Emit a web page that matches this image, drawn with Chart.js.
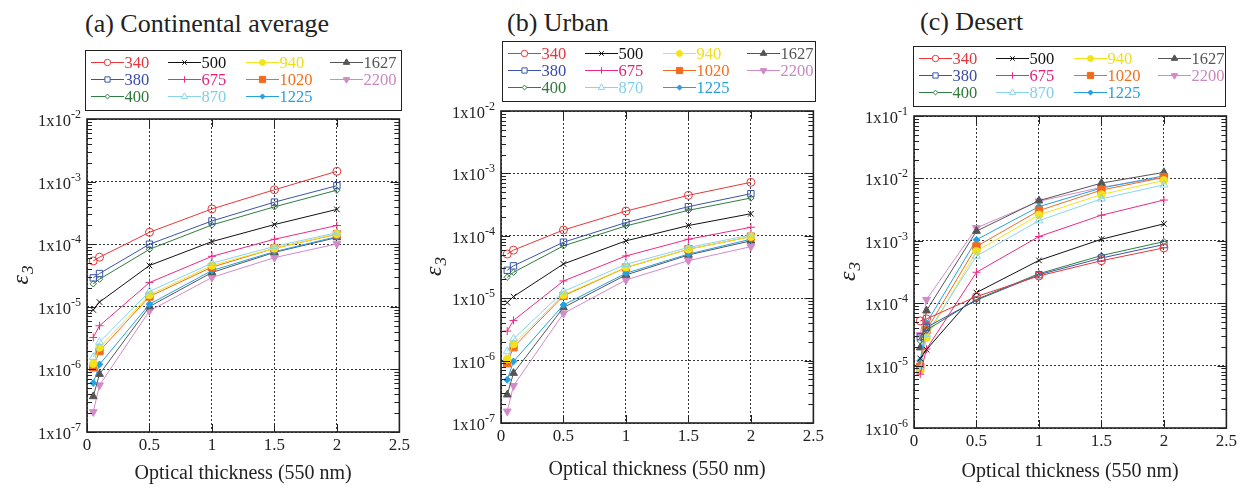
<!DOCTYPE html>
<html>
<head>
<meta charset="utf-8">
<script src="https://cdn.jsdelivr.net/npm/chart.js@4.4.0/dist/chart.umd.min.js"></script>
<style>
  body { margin: 0; width: 1240px; height: 490px; background: #fff; position: relative; overflow: hidden;
         font-family: "Liberation Serif", "Times New Roman", serif; color: #222; }
  canvas.plot { position: absolute; top: 0; }
  .ttl { position: absolute; font-size: 26px; line-height: 26px; white-space: nowrap; color: #222; }
  .leg { position: absolute; border: 1.5px solid #222; box-sizing: border-box; background: #fff; }
  .item { position: absolute; height: 17px; font-size: 16.5px; line-height: 17px; white-space: nowrap; }
  .item canvas { position: absolute; left: 0; top: 0; }
  .item span { position: absolute; left: 34px; top: 0; }
</style>
</head>
<body>
<script>
// ---- data ----
const xs = [0.05, 0.1, 0.5, 1, 1.5, 2];
const wavelengths = ['340', '380', '400', '500', '675', '870', '940', '1020', '1225', '1627', '2200'];
const xTicks = [0, 0.5, 1, 1.5, 2, 2.5];
const yTicksAB = [1e-7, 1e-6, 1e-5, 1e-4, 1e-3, 1e-2];
const yTicksC = [1e-6, 1e-5, 1e-4, 1e-3, 1e-2, 1e-1];
const panelTitles = ['(a) Continental average', '(b) Urban', '(c) Desert'];
const xTitle = 'Optical thickness (550 nm)';

// one row per wavelength, one value per optical thickness
const continentalValues = [
  [5.4e-5, 6.2e-5, 1.55e-4, 3.66e-4, 7.4e-4, 1.46e-3],
  [2.9e-5, 3.4e-5, 1.0e-4, 2.35e-4, 4.7e-4, 8.6e-4],
  [2.33e-5, 2.76e-5, 8.3e-5, 2.03e-4, 3.95e-4, 7.3e-4],
  [8.9e-6, 1.19e-5, 4.57e-5, 1.1e-4, 2.06e-4, 3.6e-4],
  [3.24e-6, 4.98e-6, 2.44e-5, 6.4e-5, 1.2e-4, 1.99e-4],
  [1.57e-6, 2.73e-6, 1.76e-5, 4.98e-5, 9.2e-5, 1.53e-4],
  [1.23e-6, 2.24e-6, 1.55e-5, 4.57e-5, 8.6e-5, 1.46e-4],
  [1.08e-6, 1.96e-6, 1.46e-5, 4.3e-5, 8.6e-5, 1.44e-4],
  [6.05e-7, 1.2e-6, 1.1e-5, 3.8e-5, 7.6e-5, 1.32e-4],
  [3.7e-7, 8.4e-7, 1.01e-5, 3.53e-5, 7.4e-5, 1.28e-4],
  [2.09e-7, 5.6e-7, 8.6e-6, 2.94e-5, 6.1e-5, 1.01e-4]
];
const urbanValues = [
  [5.1e-5, 5.9e-5, 1.24e-4, 2.49e-4, 4.45e-4, 7.2e-4],
  [2.8e-5, 3.3e-5, 7.9e-5, 1.63e-4, 2.93e-4, 4.73e-4],
  [2.17e-5, 2.6e-5, 6.9e-5, 1.44e-4, 2.56e-4, 4.03e-4],
  [8.5e-6, 1.06e-5, 3.54e-5, 8.3e-5, 1.46e-4, 2.26e-4],
  [2.97e-6, 4.4e-6, 1.89e-5, 4.75e-5, 8.8e-5, 1.37e-4],
  [1.4e-6, 2.23e-6, 1.28e-5, 3.5e-5, 6.5e-5, 1.03e-4],
  [1.06e-6, 1.84e-6, 1.13e-5, 3.13e-5, 6.1e-5, 9.7e-5],
  [9.1e-7, 1.64e-6, 1.09e-5, 3.1e-5, 6.1e-5, 9.7e-5],
  [4.93e-7, 9.7e-7, 7.8e-6, 2.51e-5, 5.1e-5, 8.8e-5],
  [2.84e-7, 6.3e-7, 7.1e-6, 2.36e-5, 4.93e-5, 8.3e-5],
  [1.54e-7, 3.95e-7, 5.7e-6, 1.96e-5, 4.0e-5, 6.7e-5]
];
const desertValues = [
  [5.2e-5, 5.6e-5, 1.28e-4, 2.73e-4, 4.8e-4, 7.7e-4],
  [2.9e-5, 4.1e-5, 1.12e-4, 2.86e-4, 5.3e-4, 8.7e-4],
  [2.5e-5, 3.7e-5, 1.15e-4, 2.97e-4, 5.8e-4, 9.7e-4],
  [1.3e-5, 1.8e-5, 1.48e-4, 4.85e-4, 1.06e-3, 1.87e-3],
  [7.3e-6, 1.84e-5, 3.13e-4, 1.17e-3, 2.57e-3, 4.5e-3],
  [8.7e-6, 3.2e-5, 5.7e-4, 2.1e-3, 4.7e-3, 7.9e-3],
  [8.2e-6, 2.8e-5, 6.8e-4, 2.6e-3, 5.5e-3, 9.3e-3],
  [9.6e-6, 3.7e-5, 8.1e-4, 3.05e-3, 6.5e-3, 1.04e-2],
  [1.2e-5, 4.8e-5, 1.04e-3, 3.53e-3, 7.0e-3, 1.1e-2],
  [1.94e-5, 7.6e-5, 1.43e-3, 4.4e-3, 8.4e-3, 1.25e-2],
  [3.1e-5, 1.14e-4, 1.61e-3, 4.3e-3, 7.2e-3, 1.04e-2]
];

// ---- styles ----
const seriesStyle = [
  { color: '#e8363a', text: '#e8363a', point: 'circle', r: 4, open: true },
  { color: '#3a55a8', text: '#3a4aa8', point: 'rect', r: 4.5, open: true },
  { color: '#2e7d40', text: '#2e7a3a', point: 'rectRot', r: 3.2, open: true },
  { color: '#111111', text: '#111111', point: 'crossRot', r: 4, open: true },
  { color: '#ec2a86', text: '#e8207a', point: 'cross', r: 4, open: true },
  { color: '#88d4ee', text: '#80cfea', point: 'triangle', r: 4.5, open: true },
  { color: '#f3e21c', text: '#f0de18', point: 'circle', r: 3.8, open: false },
  { color: '#f26b1d', text: '#f0701e', point: 'rect', r: 5.2, open: false },
  { color: '#25a0e0', text: '#22a0e0', point: 'rectRot', r: 3.4, open: false },
  { color: '#555555', text: '#555555', point: 'triangle', r: 4.5, open: false },
  { color: '#d38ac8', text: '#c888c0', point: 'triangle', r: 4.5, open: false, rot: 180 }
];

const panels = [
  { left: 0, width: 413, area: { l: 87, r: 400, t: 119, b: 432 }, title: [85, 11],
    legend: [85, 50, 317, 61], xTitlePad: 4, values: continentalValues, yTicks: yTicksAB },
  { left: 413, width: 414, area: { l: 88, r: 401, t: 111, b: 423 }, title: [507, 10],
    legend: [502, 41, 314, 61], xTitlePad: 8, values: urbanValues, yTicks: yTicksAB },
  { left: 827, width: 413, area: { l: 87, r: 401, t: 116, b: 428 }, title: [920, 9],
    legend: [913, 46, 313, 61], xTitlePad: 6, values: desertValues, yTicks: yTicksC }
];

const FONT = '"Liberation Serif", "Times New Roman", serif';

// frame, inner tick marks, y tick labels (1x10^n) and the y title
const framePlugin = {
  id: 'frame',
  afterDraw(chart) {
    const { ctx, chartArea: a, scales: { x, y } } = chart;
    const yTicks = chart.options.scales.y.myTicks;
    ctx.save();
    ctx.strokeStyle = '#222';
    ctx.lineWidth = 1;
    ctx.beginPath();
    // minor ticks on the log axis
    for (let i = 0; i < yTicks.length - 1; i++) {
      for (let k = 2; k <= 9; k++) {
        const py = Math.round(y.getPixelForValue(yTicks[i] * k)) + 0.5;
        ctx.moveTo(a.left, py); ctx.lineTo(a.left + 5, py);
        ctx.moveTo(a.right, py); ctx.lineTo(a.right - 5, py);
      }
    }
    yTicks.forEach(v => {
      const py = Math.round(y.getPixelForValue(v)) + 0.5;
      ctx.moveTo(a.left, py); ctx.lineTo(a.left + 9, py);
      ctx.moveTo(a.right, py); ctx.lineTo(a.right - 9, py);
    });
    xTicks.forEach(v => {
      const px = Math.round(x.getPixelForValue(v)) + 0.5;
      ctx.moveTo(px, a.top); ctx.lineTo(px, a.top + 8);
      ctx.moveTo(px, a.bottom); ctx.lineTo(px, a.bottom - 8);
    });
    ctx.stroke();
    ctx.lineWidth = 1.6;
    ctx.strokeRect(a.left, a.top, a.right - a.left, a.bottom - a.top);

    // tick labels
    ctx.fillStyle = '#222';
    ctx.textAlign = 'left';
    ctx.textBaseline = 'alphabetic';
    yTicks.forEach(v => {
      const py = y.getPixelForValue(v);
      const exp = String(Math.round(Math.log10(v)));
      const right = a.left - 6;
      ctx.font = '12px ' + FONT;
      const ew = ctx.measureText(exp).width;
      ctx.fillText(exp, right - ew, py - 1);
      ctx.font = '16.5px ' + FONT;
      const mw = ctx.measureText('1x10').width;
      ctx.fillText('1x10', right - ew - mw, py + 7);
    });

    // y title: epsilon with subscript 3
    ctx.translate(28, (a.top + a.bottom) / 2);
    ctx.rotate(-Math.PI / 2);
    ctx.font = 'italic 24px ' + FONT;
    const w1 = ctx.measureText('ε').width;
    ctx.font = 'italic 17px ' + FONT;
    const w2 = ctx.measureText('3').width;
    const start = -(w1 + w2) / 2;
    ctx.font = 'italic 24px ' + FONT;
    ctx.fillText('ε', start, 0);
    ctx.font = 'italic 17px ' + FONT;
    ctx.fillText('3', start + w1 + 1, 5);
    ctx.restore();
  }
};

function drawSymbol(canvas, st) {
  const ctx = canvas.getContext('2d');
  ctx.strokeStyle = st.color;
  ctx.lineWidth = 1;
  ctx.beginPath();
  ctx.moveTo(0, 8.5); ctx.lineTo(33, 8.5);
  ctx.stroke();
  ctx.fillStyle = st.open ? '#fff' : st.color;
  Chart.helpers.drawPoint(ctx, { pointStyle: st.point, radius: st.r - 0.8, rotation: st.rot || 0, borderWidth: 1 }, 16.5, 8.5);
}

function makeLegend(p) {
  const [lx, ly, lw, lh] = p.legend;
  const box = document.createElement('div');
  box.className = 'leg';
  Object.assign(box.style, { left: lx + 'px', top: ly + 'px', width: lw + 'px', height: lh + 'px' });
  const cols = [6, 83, 161, 245];
  const rows = [13, 30, 47];
  wavelengths.forEach((w, i) => {
    const st = seriesStyle[i];
    const item = document.createElement('div');
    item.className = 'item';
    item.style.left = (cols[Math.floor(i / 3)] - 1.5) + 'px';
    item.style.top = (rows[i % 3] - 8.5 - 1.5) + 'px';
    const c = document.createElement('canvas');
    c.width = 34; c.height = 17;
    const s = document.createElement('span');
    s.textContent = w;
    s.style.color = st.text;
    item.appendChild(c);
    item.appendChild(s);
    box.appendChild(item);
    drawSymbol(c, st);
  });
  document.body.appendChild(box);
}

function makePanel(p, idx) {
  const t = document.createElement('div');
  t.className = 'ttl';
  t.textContent = panelTitles[idx];
  t.style.left = p.title[0] + 'px';
  t.style.top = p.title[1] + 'px';
  document.body.appendChild(t);

  const canvas = document.createElement('canvas');
  canvas.className = 'plot';
  canvas.width = p.width;
  canvas.height = 490;
  canvas.style.left = p.left + 'px';
  document.body.appendChild(canvas);

  const gridStyle = { color: '#333', lineWidth: 1, drawTicks: false };
  new Chart(canvas, {
    type: 'line',
    data: {
      datasets: wavelengths.map((w, i) => {
        const st = seriesStyle[i];
        return {
          label: w,
          data: xs.map((x, j) => ({ x: x, y: p.values[i][j] })),
          borderColor: st.color,
          backgroundColor: st.open ? 'rgba(255,255,255,0)' : st.color,
          borderWidth: 1,
          pointStyle: st.point,
          pointRadius: st.r,
          pointRotation: st.rot || 0,
          pointBorderWidth: 1,
          tension: 0,
          clip: 8
        };
      })
    },
    options: {
      responsive: false,
      animation: false,
      events: [],
      devicePixelRatio: 1,
      layout: { padding: { left: 0, right: p.width - p.area.r, top: p.area.t, bottom: 0 } },
      plugins: { legend: { display: false }, tooltip: { enabled: false } },
      scales: {
        x: {
          type: 'linear', min: 0, max: 2.5,
          afterBuildTicks: s => { s.ticks = xTicks.map(v => ({ value: v })); },
          afterFit: s => { s.height = 490 - p.area.b; },
          grid: gridStyle,
          border: { display: false, dash: [2, 2] },
          ticks: { color: '#222', font: { family: FONT, size: 17 }, padding: 3, maxRotation: 0, callback: v => String(v) },
          title: { display: true, text: xTitle, color: '#222', font: { family: FONT, size: 20 },
                   padding: { top: 0, bottom: p.xTitlePad } }
        },
        y: {
          type: 'logarithmic',
          min: p.yTicks[0], max: p.yTicks[p.yTicks.length - 1],
          myTicks: p.yTicks,
          afterBuildTicks: s => { s.ticks = p.yTicks.map(v => ({ value: v })); },
          afterFit: s => { s.width = p.area.l; },
          grid: gridStyle,
          border: { display: false, dash: [2, 2] },
          ticks: { display: false }
        }
      }
    },
    plugins: [framePlugin]
  });
  makeLegend(p);
}

panels.forEach(makePanel);
</script>
</body>
</html>
